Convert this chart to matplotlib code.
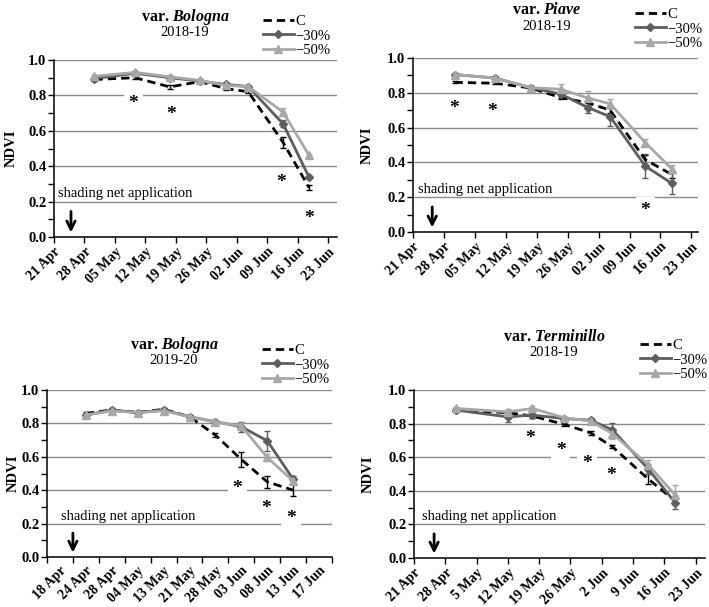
import matplotlib
matplotlib.use('Agg')
import matplotlib.pyplot as plt
import numpy as np

plt.rcParams['font.family'] = ['Liberation Serif', 'DejaVu Serif']
plt.rcParams['mathtext.fontset'] = 'custom'
plt.rcParams['mathtext.rm'] = 'Liberation Serif'
plt.rcParams['mathtext.it'] = 'Liberation Serif:italic:bold'

# ---- data (x = days after 21 Apr, panel 3 = category index) ----
weeks_a = ['21 Apr', '28 Apr', '05 May', '12 May', '19 May', '26 May', '02 Jun', '09 Jun', '16 Jun', '23 Jun']
weeks_b = ['21 Apr', '28 Apr', '5 May', '12 May', '19 May', '26 May', '2 Jun', '9 Jun', '16 Jun', '23 Jun']
cats3 = ['18 Apr', '24 Apr', '28 Apr', '04 May', '13 May', '21 May', '28 May', '03 Jun', '08 Jun', '13 Jun', '17 Jun']

# var. Bologna 2018-19
x1 = [9.3, 18.6, 26.6, 33.5, 39.6, 44.6, 52.6, 58.6]
c1 = [0.89, 0.90, 0.848, 0.878, 0.838, 0.821, 0.535, 0.278]
c1_err = [0.01, 0.01, 0.012, 0.008, 0.008, 0.008, 0.03, 0.015]
m30_1 = [0.895, 0.925, 0.90, 0.88, 0.862, 0.85, 0.64, 0.337]
m30_1_err = [0.008, 0.008, 0.01, 0.008, 0.01, 0.01, 0.02, 0.01]
m50_1 = [0.908, 0.93, 0.905, 0.885, 0.856, 0.85, 0.706, 0.461]
m50_1_err = [0.01, 0.01, 0.01, 0.01, 0.01, 0.01, 0.02, 0.01]
stars1 = [(18.2, 0.753), (26.8, 0.691), (52.1, 0.309), (58.6, 0.104)]

# var. Piave 2018-19
x2 = [9.4, 18.5, 26.6, 33.5, 39.6, 44.6, 52.6, 58.6]
c2 = [0.86, 0.855, 0.828, 0.772, 0.742, 0.70, 0.415, 0.33]
c2_err = [0.005, 0.005, 0.01, 0.01, 0.01, 0.015, 0.03, 0.02]
m30_2 = [0.905, 0.885, 0.83, 0.792, 0.715, 0.663, 0.378, 0.279]
m30_2_err = [0.01, 0.01, 0.01, 0.02, 0.03, 0.055, 0.07, 0.06]
m50_2 = [0.905, 0.885, 0.83, 0.82, 0.77, 0.737, 0.513, 0.362]
m50_2_err = [0.01, 0.01, 0.01, 0.03, 0.04, 0.025, 0.02, 0.025]
stars2 = [(9.2, 0.71), (17.8, 0.69), (52.6, 0.125)]

# var. Bologna 2019-20
x3 = [1, 2, 3, 4, 5, 6, 7, 8, 9]
c3 = [0.86, 0.88, 0.866, 0.884, 0.84, 0.73, 0.584, 0.45, 0.40]
c3_err = [0.01, 0.01, 0.01, 0.01, 0.01, 0.01, 0.045, 0.035, 0.035]
m30_3 = [0.85, 0.88, 0.865, 0.88, 0.84, 0.81, 0.78, 0.696, 0.466]
m30_3_err = [0.01, 0.01, 0.01, 0.01, 0.01, 0.01, 0.03, 0.06, 0.02]
m50_3 = [0.85, 0.875, 0.865, 0.875, 0.84, 0.808, 0.785, 0.596, 0.455]
m50_3_err = [0.01, 0.01, 0.01, 0.01, 0.01, 0.01, 0.02, 0.02, 0.02]
stars3 = [(6.85, 0.41), (7.96, 0.29), (8.92, 0.23)]

# var. Terminillo 2018-19
x4 = [9.5, 21.0, 26.5, 33.6, 39.5, 44.4, 52.4, 58.4]
c4 = [0.88, 0.865, 0.845, 0.795, 0.745, 0.662, 0.47, 0.34]
c4_err = [0.01, 0.01, 0.01, 0.01, 0.01, 0.01, 0.03, 0.02]
m30_4 = [0.88, 0.84, 0.851, 0.83, 0.82, 0.763, 0.53, 0.33]
m30_4_err = [0.01, 0.03, 0.015, 0.01, 0.015, 0.04, 0.03, 0.04]
m50_4 = [0.89, 0.87, 0.89, 0.835, 0.815, 0.74, 0.555, 0.375]
m50_4_err = [0.01, 0.015, 0.015, 0.01, 0.015, 0.03, 0.03, 0.06]
stars4 = [(26.0, 0.712), (32.8, 0.642), (38.7, 0.563), (44.0, 0.489)]

col_c, col_30, col_50 = 'black', '#5e5e5e', '#a8a8a8'
W, H = 709, 607

fig = plt.figure(figsize=(7.09, 6.07), dpi=100)


def px_rect(l, r, top, bot):
    return [l / W, 1 - bot / H, (r - l) / W, (bot - top) / H]


def panel(rect, x, c, ce, m30, e30, m50, e50, stars, xlim, note_x, arrow_x,
          title, year, tpos, leg_pos, ylab_x, cat=False):
    ax = fig.add_axes(rect)
    ax.set_ylim(0, 1.0)
    ax.set_xlim(*xlim)
    for v in [0.2, 0.4, 0.6, 0.8, 1.0]:
        ax.axhline(v, color='#8a8a8a', lw=1, zorder=0)
    for s in ['top', 'right']:
        ax.spines[s].set_visible(False)
    for s in ['left', 'bottom']:
        ax.spines[s].set_color('black')
        ax.spines[s].set_linewidth(1.1)

    ax.errorbar(x, c, yerr=ce, fmt='none', ecolor=col_c, elinewidth=1, capsize=2, zorder=3)
    ax.errorbar(x, m30, yerr=e30, fmt='none', ecolor=col_30, elinewidth=1, capsize=2, zorder=3)
    ax.errorbar(x, m50, yerr=e50, fmt='none', ecolor=col_50, elinewidth=1, capsize=2, zorder=3)
    ax.plot(x, c, color=col_c, lw=2, ls=(0, (3, 1.8)), label='C', zorder=4)
    ax.plot(x, m30, color=col_30, lw=2, marker='D', ms=4, label='\u221230%', zorder=5)
    ax.plot(x, m50, color=col_50, lw=2, marker='^', ms=5.5, label='\u221250%', zorder=6)

    for sx, sy in stars:
        ax.text(sx, sy, '*', ha='center', va='center', fontsize=14, fontweight='bold',
                zorder=7, bbox=dict(boxstyle='square,pad=0.25', fc='white', ec='none'))

    ax.text(note_x, 0.245, 'shading net application', fontsize=10.5, va='center', ha='left', zorder=8)
    ax.annotate('', xy=(arrow_x, 0.01), xytext=(arrow_x, 0.16),
                arrowprops=dict(arrowstyle='->', lw=2, color='black', mutation_scale=15))

    ax.set_yticks([0, 0.2, 0.4, 0.6, 0.8, 1.0])
    ax.set_yticklabels(['0.0', '0.2', '0.4', '0.6', '0.8', '1.0'])
    ax.set_yticks(np.arange(0.1, 1.0, 0.2), minor=True)
    ax.tick_params(axis='y', which='both', direction='out', length=4, width=1, pad=1.5,
                   labelsize=10.5)
    for t in ax.get_yticklabels():
        t.set_fontweight('bold')

    if cat:
        ax.set_xticks(np.arange(-0.5, 11, 1))
        ax.set_xticklabels([''] * 12)
        ax.set_xticks(np.arange(11), minor=True)
        ax.set_xticklabels(cats3, minor=True, rotation=45, ha='right',
                           rotation_mode='anchor', fontweight='bold', fontsize=10)
        ax.tick_params(axis='x', which='major', direction='out', length=4, width=1)
        ax.tick_params(axis='x', which='minor', length=0, pad=5)
    else:
        ax.set_xticks(np.arange(0, 64, 7))
        ax.set_xticklabels(weeks_b if title == 'Terminillo' else weeks_a, rotation=45, ha='right',
                           rotation_mode='anchor', fontweight='bold', fontsize=10)
        ax.tick_params(axis='x', direction='out', length=4, width=1, pad=2)

    ax.set_ylabel('NDVI', fontweight='bold', fontsize=10.5)
    ax.yaxis.set_label_coords(ylab_x, 0.5)

    fig.text(tpos[0] / W, 1 - tpos[1] / H, 'var. $\\mathit{' + title + '}$', fontsize=11.5,
             fontweight='bold', ha='center', va='center')
    fig.text(tpos[0] / W, 1 - (tpos[1] + 16) / H, year, fontsize=10.5, ha='center', va='center')

    ax.legend(loc='upper left', bbox_to_anchor=(leg_pos[0] / W, 1 - leg_pos[1] / H),
              bbox_transform=fig.transFigure, frameon=False, fontsize=10.5, borderpad=0,
              borderaxespad=0, handlelength=2.1, handletextpad=0.12, labelspacing=0.08,
              numpoints=1)
    return ax


panel(px_rect(54, 337, 60, 237), x1, c1, c1_err, m30_1, m30_1_err, m50_1, m50_1_err, stars1,
      (0, 65), 0.9, 3.9, 'Bologna', '2018-19', (185, 17), (263, 15), -0.127)
panel(px_rect(413, 698, 58, 232), x2, c2, c2_err, m30_2, m30_2_err, m50_2, m50_2_err, stars2,
      (0, 64.5), 1.1, 4.35, 'Piave', '2018-19', (547, 10), (635, 8), -0.137)
panel(px_rect(47, 332, 390, 557), x3, c3, c3_err, m30_3, m30_3_err, m50_3, m50_3_err, stars3,
      (-0.5, 10.5), 0.03, 0.5, 'Bologna', '2019-20', (174, 345), (262, 344), -0.095, cat=True)
panel(px_rect(414, 705, 390, 558), x4, c4, c4_err, m30_4, m30_4_err, m50_4, m50_4_err, stars4,
      (0, 65.1), 1.7, 4.5, 'Terminillo', '2018-19', (554, 337), (640, 339), -0.134)

fig.savefig('out.png', dpi=100, facecolor='white')
